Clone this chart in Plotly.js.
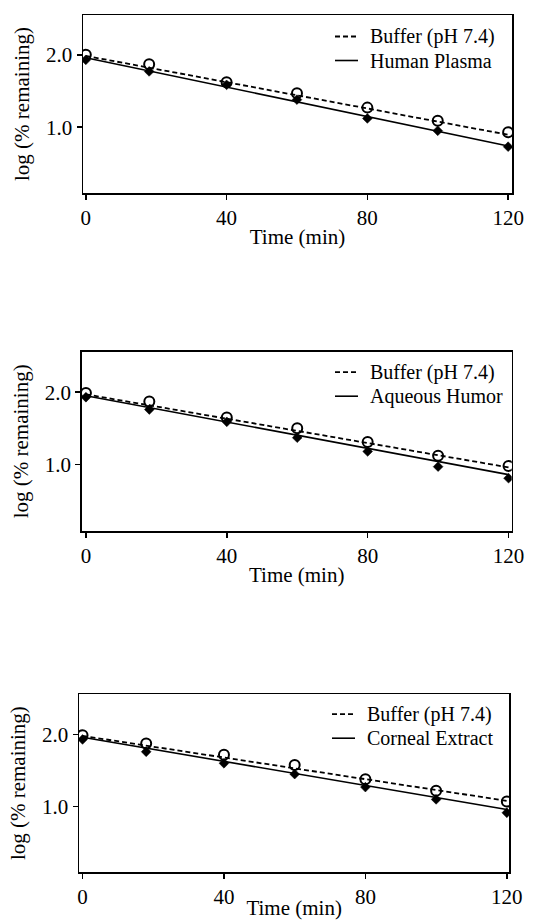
<!DOCTYPE html>
<html>
<head>
<meta charset="utf-8">
<script src="https://cdn.plot.ly/plotly-3.0.1.min.js"></script>
<style>html,body{margin:0;padding:0;background:#fff;}#chart{width:535px;height:920px;}</style>
</head>
<body>
<div id="chart"></div>
<script>
// ---- data ----
var timeMin = [0, 18, 40, 60, 80, 100, 120];
var fitTime = [0, 120];

var bufferP1 = [2.00, 1.87, 1.62, 1.47, 1.27, 1.09, 0.93];
var plasma   = [1.93, 1.77, 1.585, 1.38, 1.12, 0.95, 0.73];
var bufferP1Fit = [1.985, 0.895];
var plasmaFit   = [1.96, 0.74];

var bufferP2 = [1.99, 1.87, 1.65, 1.50, 1.31, 1.12, 0.98];
var aqueous  = [1.93, 1.76, 1.59, 1.37, 1.18, 0.97, 0.81];
var bufferP2Fit = [1.97, 0.96];
var aqueousFit  = [1.95, 0.86];

var bufferP3 = [1.99, 1.875, 1.72, 1.575, 1.38, 1.22, 1.07];
var corneal  = [1.93, 1.76, 1.60, 1.45, 1.27, 1.10, 0.915];
var bufferP3Fit = [1.98, 1.08];
var cornealFit  = [1.96, 0.96];

var bufferName = "Buffer (pH 7.4)";
var mediumNames = ["Human Plasma", "Aqueous Humor", "Corneal Extract"];
var xTickVals = [0, 40, 80, 120];
var yTickVals = [1.0, 2.0];
var xTitle = "Time (min)";
var yTitle = "log (% remaining)";

// ---- styling ----
var FONT = "Liberation Serif, Times New Roman, serif";
var FS = 21, LFS = 20;
var W = 535, H = 920;
function px2x(p){ return p / W; }
function px2y(p){ return 1 - p / H; }

var panels = [
  {buf: bufferP1, med: plasma,  bufFit: bufferP1Fit, medFit: plasmaFit,  name: mediumNames[0],
   box: [83, 512, 15, 193],  xr: [-0.8, 121.1], yr: [0.09, 2.55],
   leg: {s0: 335, s1: 358, tx: 369, y1: 36.5, y2: 60.5}},
  {buf: bufferP2, med: aqueous, bufFit: bufferP2Fit, medFit: aqueousFit, name: mediumNames[1],
   box: [81.7, 511.7, 351.7, 531], xr: [-1.2, 120.9], yr: [0.08, 2.56],
   leg: {s0: 335, s1: 358, tx: 369, y1: 372.2, y2: 396.2}},
  {buf: bufferP3, med: corneal, bufFit: bufferP3Fit, medFit: cornealFit, name: mediumNames[2],
   box: [79, 509.3, 694, 872.3], xr: [-1.0, 120.7], yr: [0.09, 2.56],
   leg: {s0: 332, s1: 355, tx: 366, y1: 714.2, y2: 738.2}}
];

var data = [];
var annotations = [];
var shapes = [];
var layout = {
  width: W, height: H,
  margin: {l: 0, r: 0, t: 0, b: 0},
  paper_bgcolor: "#fff", plot_bgcolor: "#fff",
  font: {family: FONT, size: FS, color: "#000"},
  showlegend: false
};

var bufLine = {color: "#000", width: 1.8, dash: "5px,3px"};
var medLine = {color: "#000", width: 1.6};

panels.forEach(function(p, i){
  var n = i === 0 ? "" : String(i + 1);
  var xa = "x" + n, ya = "y" + n;
  data.push({x: fitTime, y: p.bufFit, xaxis: xa, yaxis: ya, mode: "lines", name: bufferName,
    line: bufLine, hoverinfo: "skip"});
  data.push({x: fitTime, y: p.medFit, xaxis: xa, yaxis: ya, mode: "lines", name: p.name,
    line: medLine, hoverinfo: "skip"});
  data.push({x: timeMin, y: p.buf, xaxis: xa, yaxis: ya, mode: "markers", name: bufferName,
    marker: {symbol: "circle-open", size: 10, color: "#000", line: {width: 2, color: "#000"}}});
  data.push({x: timeMin, y: p.med, xaxis: xa, yaxis: ya, mode: "markers", name: p.name,
    marker: {symbol: "diamond", size: 7.5, color: "#000", line: {width: 0.5, color: "#000"}}});

  var common = {showline: true, mirror: true, linecolor: "#000", linewidth: 1.5,
    ticks: "outside", ticklen: 5, tickwidth: 1.5, tickcolor: "#000",
    showgrid: false, zeroline: false, fixedrange: true,
    tickfont: {family: FONT, size: FS, color: "#000"}};
  layout["xaxis" + n] = Object.assign({}, common, {
    anchor: ya, domain: [px2x(p.box[0]), px2x(p.box[1])], range: p.xr,
    tickvals: xTickVals,
    title: {text: xTitle, font: {family: FONT, size: FS, color: "#000"}, standoff: 0}
  });
  layout["yaxis" + n] = Object.assign({}, common, {
    anchor: xa, domain: [px2y(p.box[3]), px2y(p.box[2])], range: p.yr,
    tickvals: yTickVals, tickformat: ".1f",
    title: {text: yTitle, font: {family: FONT, size: FS, color: "#000"}, standoff: 10}
  });

  // key drawn in paper space
  var L = p.leg;
  shapes.push({type: "line", xref: "paper", yref: "paper",
    x0: px2x(L.s0), x1: px2x(L.s1), y0: px2y(L.y1), y1: px2y(L.y1), line: bufLine});
  shapes.push({type: "line", xref: "paper", yref: "paper",
    x0: px2x(L.s0), x1: px2x(L.s1), y0: px2y(L.y2), y1: px2y(L.y2), line: medLine});
  annotations.push({xref: "paper", yref: "paper", x: px2x(L.tx), y: px2y(L.y1),
    xanchor: "left", yanchor: "middle", showarrow: false, text: bufferName, borderpad: 0,
    font: {family: FONT, size: LFS, color: "#000"}});
  annotations.push({xref: "paper", yref: "paper", x: px2x(L.tx), y: px2y(L.y2),
    xanchor: "left", yanchor: "middle", showarrow: false, text: p.name, borderpad: 0,
    font: {family: FONT, size: LFS, color: "#000"}});
});
layout.annotations = annotations;
layout.shapes = shapes;

Plotly.newPlot("chart", data, layout, {displayModeBar: false, staticPlot: true});
</script>
</body>
</html>
